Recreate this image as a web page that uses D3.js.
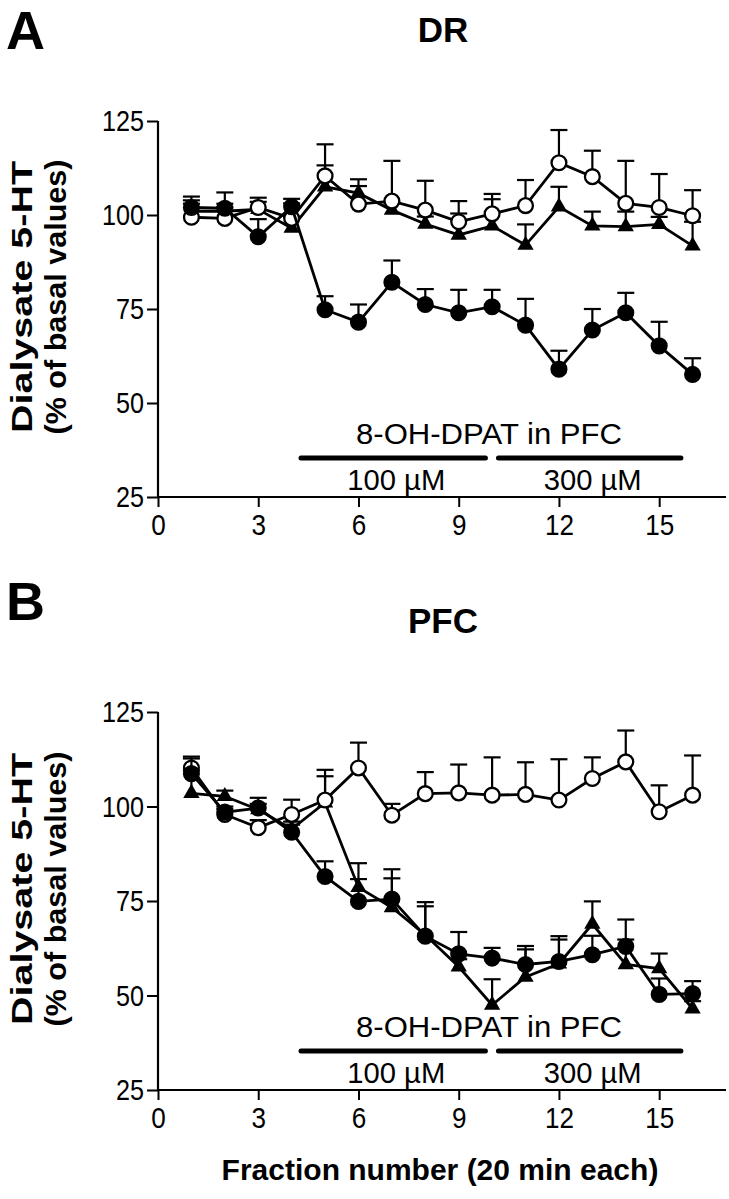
<!DOCTYPE html>
<html>
<head>
<meta charset="utf-8">
<script src="https://cdn.jsdelivr.net/npm/d3@7"></script>
<style>
  html, body { margin: 0; padding: 0; background: #fff; }
  svg { display: block; font-family: Arial, "Liberation Sans", sans-serif; }
</style>
</head>
<body>
<svg id="chart" width="729" height="1199"></svg>
<script>
// ---------------- DATA ----------------
const fractions = [1, 2, 3, 4, 5, 6, 7, 8, 9, 10, 11, 12, 13, 14, 15, 16];
const xTicks = [0, 3, 6, 9, 12, 15];
const yTicks = [25, 50, 75, 100, 125];

// Panel A: DR
const drFilled    = [102.0, 101.8, 94.2, 102.2, 74.8, 71.5, 82.1, 76.2, 74.0, 75.6, 70.7, 59.0, 69.4, 74.0, 65.2, 57.6];
const drFilledErr = [2.9, 4.2, 4.7, 2.1, 3.6, 4.7, 5.8, 4.1, 6.1, 4.5, 7.0, 4.9, 5.6, 5.3, 6.4, 4.3];
const drOpen      = [99.4, 99.1, 102.0, 99.1, 110.4, 102.9, 103.7, 101.3, 98.2, 100.3, 102.5, 113.9, 110.2, 103.1, 102.0, 99.8];
const drOpenErr   = [4.5, 3.0, 2.6, 4.0, 8.4, 4.8, 10.7, 7.8, 5.5, 5.3, 6.8, 8.7, 6.9, 11.3, 8.9, 6.8];
const drTri       = [101.0, 101.0, 101.5, 96.5, 107.5, 105.8, 101.3, 97.6, 94.7, 97.1, 92.0, 102.2, 97.1, 96.9, 97.5, 91.8];
const drTriErr    = [2.0, 2.0, 2.0, 3.0, 5.7, 3.7, 2.0, 2.0, 5.7, 7.1, 5.5, 5.3, 3.8, 4.0, 2.0, 6.4];

// Panel B: PFC
const pfcFilled    = [108.7, 98.5, 99.6, 93.2, 81.5, 74.9, 75.5, 65.7, 61.0, 59.9, 58.2, 59.0, 60.8, 63.0, 50.3, 50.5];
const pfcFilledErr = [4.0, 1.5, 2.7, 2.0, 4.0, 5.9, 7.9, 9.0, 5.8, 2.7, 4.9, 6.7, 5.0, 7.1, 4.2, 3.3];
const pfcOpen      = [110.2, 97.9, 94.4, 97.9, 101.7, 110.2, 97.7, 103.4, 103.6, 103.0, 103.2, 101.7, 107.4, 111.8, 98.6, 103.0];
const pfcOpenErr   = [3.0, 1.5, 2.0, 3.9, 8.0, 6.7, 3.0, 5.7, 7.5, 10.0, 8.5, 10.8, 5.6, 8.3, 7.0, 10.5];
const pfcTri       = [103.5, 102.7, 99.2, 94.0, 101.0, 78.6, 73.3, 66.0, 57.6, 47.5, 54.9, 58.4, 68.9, 58.2, 57.1, 46.5];
const pfcTriErr    = [6.0, 1.5, 1.5, 2.0, 7.0, 6.4, 7.7, 7.6, 2.0, 6.8, 7.3, 6.4, 6.0, 6.6, 4.0, 2.0];

// Treatment periods (fraction units)
const periodLabels = ["100 µM", "300 µM"];
const periodStart  = [4.28, 10.19];
const periodEnd    = [9.80, 15.65];
const treatmentLabel = "8-OH-DPAT in PFC";

const panels = [
  { letter: "A", title: "DR",  top: 121, bottom: 497, letterY: 49, titleY: 42,
    series: [
      { kind: "tri",    v: drTri,    e: drTriErr },
      { kind: "open",   v: drOpen,   e: drOpenErr },
      { kind: "filled", v: drFilled, e: drFilledErr }
    ] },
  { letter: "B", title: "PFC", top: 712, bottom: 1090, letterY: 620, titleY: 633,
    series: [
      { kind: "tri",    v: pfcTri,    e: pfcTriErr },
      { kind: "open",   v: pfcOpen,   e: pfcOpenErr },
      { kind: "filled", v: pfcFilled, e: pfcFilledErr }
    ] }
];

// ---------------- DRAW ----------------
const svg = d3.select("#chart");
const x = d3.scaleLinear().domain([0, 17]).range([158, 726]);

panels.forEach((p, pi) => {
  const y = d3.scaleLinear().domain([25, 125]).range([p.bottom, p.top]);
  const g = svg.append("g");

  // Panel letter & title
  g.append("text").attr("x", 6).attr("y", p.letterY)
    .attr("font-size", 54).attr("font-weight", "bold").text(p.letter);
  g.append("text").attr("x", 443).attr("y", p.titleY)
    .attr("text-anchor", "middle").attr("font-size", 35).attr("font-weight", "bold").text(p.title);

  // Y label
  const yl = g.append("g").attr("transform", `translate(0,${(p.top + p.bottom) / 2 - 12})`);
  yl.append("text").attr("transform", "translate(32,0) rotate(-90)")
    .attr("text-anchor", "middle").attr("font-size", 30).attr("font-weight", "bold")
    .attr("textLength", 272).attr("lengthAdjust", "spacingAndGlyphs")
    .text("Dialysate 5-HT");
  yl.append("text").attr("transform", "translate(66,0) rotate(-90)")
    .attr("text-anchor", "middle").attr("font-size", 30).attr("font-weight", "bold")
    .attr("textLength", 275).attr("lengthAdjust", "spacingAndGlyphs")
    .text("(% of basal values)");

  // Axes
  const yAxis = g.append("g").attr("transform", `translate(${x(0)},0)`)
    .call(d3.axisLeft(y).tickValues(yTicks).tickSize(11).tickPadding(3).tickFormat(d3.format("d")));
  const xAxis = g.append("g").attr("transform", `translate(0,${p.bottom})`)
    .call(d3.axisBottom(x).tickValues(xTicks).tickSize(10).tickPadding(7).tickFormat(d3.format("d")));
  [yAxis, xAxis].forEach(a => {
    a.select(".domain").attr("stroke", "#000").attr("stroke-width", 2.2);
    a.selectAll(".tick line").attr("stroke", "#000").attr("stroke-width", 2);
    a.selectAll(".tick text").attr("font-size", 30).attr("fill", "#000")
      .attr("font-family", "Arial, 'Liberation Sans', sans-serif");
  });
  yAxis.selectAll(".tick text").attr("textLength", function () { return this.textContent.length * 14; })
    .attr("lengthAdjust", "spacingAndGlyphs");
  xAxis.selectAll(".tick text").attr("textLength", function () { return this.textContent.length * 14.5; })
    .attr("lengthAdjust", "spacingAndGlyphs");
  yAxis.select(".domain").attr("d", `M0,${p.bottom}V${p.top}`);
  xAxis.select(".domain").attr("d", `M${x(0)},0H${x(17)}`);

  // Treatment bars
  const barY = p.bottom - 39;
  g.append("text").attr("x", 489).attr("y", p.bottom - 53)
    .attr("text-anchor", "middle").attr("font-size", 29)
    .attr("textLength", 266).attr("lengthAdjust", "spacingAndGlyphs")
    .text(treatmentLabel);
  periodLabels.forEach((lab, i) => {
    g.append("line")
      .attr("x1", x(periodStart[i])).attr("x2", x(periodEnd[i]))
      .attr("y1", barY).attr("y2", barY)
      .attr("stroke", "#000").attr("stroke-width", 5).attr("stroke-linecap", "round");
    g.append("text").attr("x", (x(periodStart[i]) + x(periodEnd[i])) / 2 + 3)
      .attr("y", p.bottom - 7).attr("text-anchor", "middle").attr("font-size", 29)
      .attr("textLength", 98).attr("lengthAdjust", "spacingAndGlyphs")
      .text(lab);
  });

  // Series
  const line = d3.line().x((d, i) => x(fractions[i])).y(d => y(d));
  const tri = d3.symbol(d3.symbolTriangle, 115);
  p.series.forEach(s => {
    const sg = g.append("g");
    s.v.forEach((v, i) => {
      const cx = x(fractions[i]), y0 = y(v), y1 = y(v + s.e[i]);
      sg.append("line").attr("x1", cx).attr("x2", cx).attr("y1", y0).attr("y2", y1)
        .attr("stroke", "#000").attr("stroke-width", 2.2);
      sg.append("line").attr("x1", cx - 8.5).attr("x2", cx + 8.5).attr("y1", y1).attr("y2", y1)
        .attr("stroke", "#000").attr("stroke-width", 2.2);
    });
    sg.append("path").datum(s.v).attr("d", line)
      .attr("fill", "none").attr("stroke", "#000").attr("stroke-width", 2.8);
    s.v.forEach((v, i) => {
      const cx = x(fractions[i]), cy = y(v);
      if (s.kind === "tri") {
        sg.append("path").attr("d", tri()).attr("transform", `translate(${cx},${cy})`)
          .attr("fill", "#000");
      } else {
        sg.append("circle").attr("cx", cx).attr("cy", cy).attr("r", 7.4)
          .attr("fill", s.kind === "open" ? "#fff" : "#000")
          .attr("stroke", "#000").attr("stroke-width", 2.3);
      }
    });
  });
});

// X axis title
svg.append("text").attr("x", 440).attr("y", 1180)
  .attr("text-anchor", "middle").attr("font-size", 30).attr("font-weight", "bold")
  .text("Fraction number (20 min each)");
</script>
</body>
</html>
